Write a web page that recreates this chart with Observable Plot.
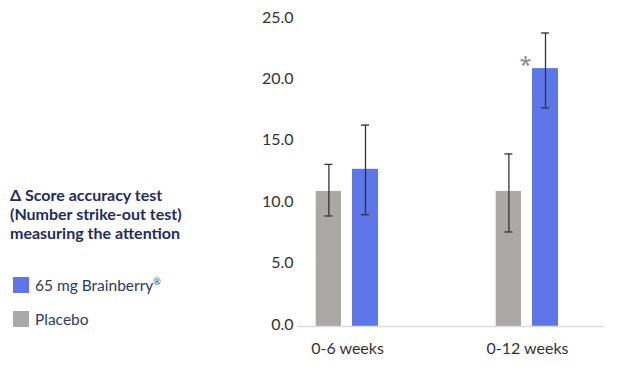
<!DOCTYPE html>
<html>
<head>
<meta charset="utf-8">
<script src="https://cdn.jsdelivr.net/npm/d3@7"></script>
<script src="https://cdn.jsdelivr.net/npm/@observablehq/plot@0.6"></script>
<style>
  html, body { margin: 0; padding: 0; background: #fff; }
  #wrap { position: relative; width: 625px; height: 374px; font-family: Lato, "Noto Sans", sans-serif; }
  #legend { position: absolute; left: 10px; top: 185px; color: #1f2d5c; }
  #legend .title { font-weight: 700; font-size: 16px; line-height: 19px; }
  #legend .item { display: flex; align-items: center; font-size: 15.5px; color: #2e3a5e; line-height: 18px; }
  #legend .sw { width: 16px; height: 16px; margin-right: 6px; margin-left: 3px; }
  #legend sup { font-size: 9px; vertical-align: 6px; line-height: 0; }
  #chart { position: absolute; left: 0; top: 0; }
</style>
</head>
<body>
<div id="wrap">
  <div id="chart"></div>
  <div id="legend"></div>
</div>
<script>
const periods = ["0-6 weeks", "0-12 weeks"];
const seriesNames = ["Placebo", "65 mg Brainberry®"];
const placeboValues = [11.0, 11.0];
const placeboLow = [9.0, 7.7];
const placeboHigh = [13.2, 14.05];
const brainberryValues = [12.8, 21.0];
const brainberryLow = [9.1, 17.8];
const brainberryHigh = [16.4, 23.9];
const yTicks = [0, 5, 10, 15, 20, 25];
const significant = [{period: "0-12 weeks", value: 21.0, label: "*"}];

const colors = {"Placebo": "#aca8a6", "65 mg Brainberry®": "#5d76e8"};

const placebo = periods.map((p, i) => ({period: p, series: seriesNames[0], value: placeboValues[i], low: placeboLow[i], high: placeboHigh[i]}));
const brainberry = periods.map((p, i) => ({period: p, series: seriesNames[1], value: brainberryValues[i], low: brainberryLow[i], high: brainberryHigh[i]}));

const font = "Lato, 'Noto Sans', sans-serif";

const chart = Plot.plot({
  width: 625,
  height: 374,
  marginLeft: 297,
  marginRight: 21,
  marginTop: 19,
  marginBottom: 48,
  style: {fontFamily: font, fontSize: "16px", color: "#333", background: "transparent"},
  x: {type: "band", domain: periods, range: [257, 617], padding: 0, label: null},
  y: {domain: [0, 25], label: null},
  color: {domain: seriesNames, range: seriesNames.map(s => colors[s])},
  marks: [
    Plot.axisY({ticks: yTicks, tickFormat: d => d.toFixed(1), tickSize: 0, tickPadding: 4, dy: -2, fontSize: 16, fill: "#333"}),
    Plot.axisX({tickSize: 0, tickPadding: 16, fontSize: 16, fill: "#333"}),
    Plot.barY(placebo, {x: "period", y: "value", fill: "series", insetLeft: 58.7, insetRight: 96}),
    Plot.barY(brainberry, {x: "period", y: "value", fill: "series", insetLeft: 95, insetRight: 59}),
    Plot.ruleY([0], {stroke: "#dcdcdc", strokeWidth: 1.5}),
    Plot.ruleX(placebo, {x: "period", y1: "low", y2: "high", dx: -18.6, stroke: "#333", strokeWidth: 1.3}),
    Plot.ruleX(brainberry, {x: "period", y1: "low", y2: "high", dx: 18, stroke: "#333", strokeWidth: 1.3}),
    Plot.tickY(placebo, {x: "period", y: "low", insetLeft: 67.4, insetRight: 104.6, stroke: "#333", strokeWidth: 1.3}),
    Plot.tickY(placebo, {x: "period", y: "high", insetLeft: 67.4, insetRight: 104.6, stroke: "#333", strokeWidth: 1.3}),
    Plot.tickY(brainberry, {x: "period", y: "low", insetLeft: 104, insetRight: 68, stroke: "#333", strokeWidth: 1.3}),
    Plot.tickY(brainberry, {x: "period", y: "high", insetLeft: 104, insetRight: 68, stroke: "#333", strokeWidth: 1.3}),
    Plot.text(significant, {x: "period", y: "value", text: "label", dx: -2, dy: 3, lineAnchor: "bottom", fontSize: 22, fontFamily: "'Noto Sans', sans-serif", fill: "#8a8a8a"})
  ]
});
document.getElementById("chart").appendChild(chart);

const legend = document.getElementById("legend");
legend.innerHTML = `<div class="title">Δ Score accuracy test<br>(Number strike-out test)<br>measuring the attention</div>`;
const legendOrder = ["65 mg Brainberry®", "Placebo"];
legendOrder.forEach((s, i) => {
  const item = document.createElement("div");
  item.className = "item";
  item.style.marginTop = i === 0 ? "34px" : "16px";
  const label = s.replace("®", "<sup>®</sup>");
  item.innerHTML = `<span class="sw" style="background:${colors[s]}"></span><span>${label}</span>`;
  legend.appendChild(item);
});
</script>
</body>
</html>
